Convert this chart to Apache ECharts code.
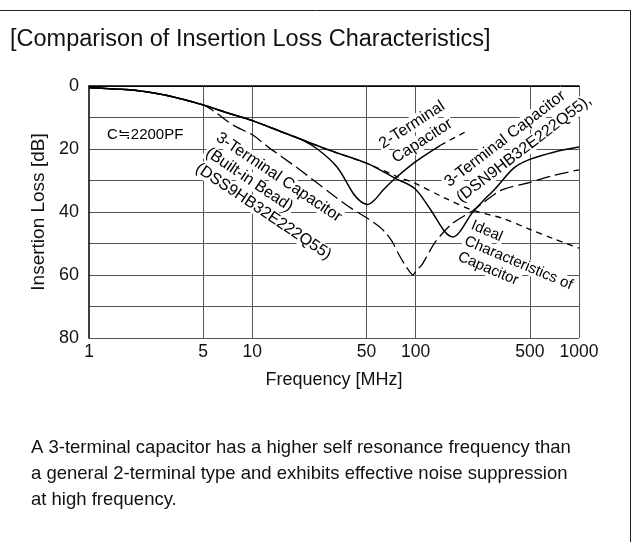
<!DOCTYPE html>
<html>
<head>
<meta charset="utf-8">
<script src="https://cdn.jsdelivr.net/npm/echarts@6/dist/echarts.min.js"></script>
<style>
html,body{margin:0;padding:0;background:#fff;}
#chart{width:636px;height:542px;}
</style>
</head>
<body>
<div id="chart"></div>
<script>
// ---- data ----
const xTickValues = [1, 5, 10, 50, 100, 500, 1000];
const xGridValues = [5, 10, 50, 100, 500, 1000];
const yTickLabels = [0, 20, 40, 60, 80];

// Ideal characteristics of capacitor
const idealFreq = [1, 1.5, 2, 3, 5, 7, 10, 15, 20, 30, 50, 75, 100, 150, 225, 340, 500, 700, 1000];
const idealLoss = [0.5, 1, 1.5, 3, 6, 8.5, 11, 14.5, 17, 20.5, 24.5, 28.5, 31, 35.5, 39.5, 42, 45.5, 48.5, 51.5];

// 3-terminal capacitor DSN9HB32E222Q55
const dsnFreq = [1, 1.5, 2, 3, 5, 7, 10, 15, 20, 30, 50, 75, 99, 126, 151, 169, 186, 220, 255, 307, 400, 500, 700, 1000];
const dsnLoss = [0.5, 1, 1.5, 3, 6, 8.5, 11, 14.5, 17, 20.5, 24.5, 29.3, 32.6, 40, 46.3, 47.9, 46.3, 40.5, 36.8, 32.6, 26, 23.3, 21, 19.4];

// 2-terminal capacitor (solid part and dashed continuation)
const twoFreq = [1, 1.5, 2, 3, 5, 7, 10, 15, 20, 25, 33, 41.6, 46, 51, 56, 63, 75, 100, 141];
const twoLoss = [0.5, 1, 1.5, 3, 6, 8.5, 11, 14.5, 17, 20, 25.7, 34.2, 36.6, 37.6, 36.2, 33.1, 29.3, 24, 18.9];
const twoExtFreq = [141, 209];
const twoExtLoss = [18.9, 14.1];

// 3-terminal capacitor with built-in bead DSS9HB32E222Q55
const dssFreq = [1, 1.5, 2, 3, 5, 6, 7.6, 10, 12.8, 15, 20, 30, 40, 50, 60, 66, 72, 78, 86, 92, 96, 101, 109, 132, 167, 225, 330, 500, 700, 1000];
const dssLoss = [0.5, 1, 1.5, 3, 6, 8.5, 12.4, 15.5, 19.8, 22.3, 27, 34, 38.7, 41.8, 44.7, 46.8, 49.5, 53, 56.8, 59, 60, 58.6, 56.8, 49.5, 43.7, 39.5, 33.2, 30.6, 28.4, 26.6];

const pairs = (xs, ys) => xs.map((x, i) => [x, ys[i]]);

const FONT = '"Liberation Sans", Arial, Helvetica, sans-serif';

// rotated multi-line annotation helper (each line a separate text element)
function block(lines, x, y, deg, lh, size, align) {
  const a = deg * Math.PI / 180;
  const px = -Math.sin(a), py = Math.cos(a);
  return lines.map((t, i) => ({
    type: 'text',
    x: x + i * lh * px,
    y: y + i * lh * py,
    rotation: -a,
    z: 1,
    style: {
      text: t,
      font: size + 'px ' + FONT,
      fill: '#000',
      align: align || 'left',
      verticalAlign: 'middle',
      backgroundColor: '#fff',
      padding: [0, 2]
    }
  }));
}

const chart = echarts.init(document.getElementById('chart'), null, {renderer: 'canvas'});

const graphics = [
  {type: 'line', z: 1, shape: {x1: 0, y1: 10.5, x2: 631, y2: 10.5}, style: {stroke: '#222', lineWidth: 1}},
  {type: 'line', z: 1, shape: {x1: 630.5, y1: 10, x2: 630.5, y2: 542}, style: {stroke: '#222', lineWidth: 1}},
  {type: 'text', x: 10, y: 40, z: 1, style: {text: '[Comparison of Insertion Loss Characteristics]', font: '23.5px ' + FONT, fill: '#111', verticalAlign: 'middle'}},
  {type: 'text', x: 31, y: 448, z: 1, style: {text: 'A 3-terminal capacitor has a higher self resonance frequency than', font: '18.5px ' + FONT, fill: '#111', verticalAlign: 'middle'}},
  {type: 'text', x: 31, y: 474, z: 1, style: {text: 'a general 2-terminal type and exhibits effective noise suppression', font: '18.5px ' + FONT, fill: '#111', verticalAlign: 'middle'}},
  {type: 'text', x: 31, y: 500, z: 1, style: {text: 'at high frequency.', font: '18.5px ' + FONT, fill: '#111', verticalAlign: 'middle'}},
  {type: 'text', x: 107, y: 135, z: 1, style: {text: 'C≒2200PF', font: '15px ' + FONT, fill: '#000', verticalAlign: 'middle', backgroundColor: '#fff'}}
]
.concat(block(['3-Terminal Capacitor', '(Built-in Bead)', '(DSS9HB32E222Q55)'], 216, 135, 34, 18.5, 16))
.concat(block(['2-Terminal', 'Capacitor'], 412, 125, -33, 19, 16, 'center'))
.concat(block(['3-Terminal Capacitor', '(DSN9HB32E222Q55),'], 445, 185, -37.5, 19.5, 16))
.concat(block(['Ideal', 'Characteristics of', 'Capacitor'], 470, 224, 23, 17, 15));

const lineBase = {type: 'line', showSymbol: false, symbol: 'none', z: 3, animation: false, silent: true};

chart.setOption({
  animation: false,
  backgroundColor: '#fff',
  textStyle: {fontFamily: FONT},
  grid: {left: 89, right: 57, top: 86, bottom: 204, containLabel: false},
  xAxis: {
    type: 'log', logBase: 10, min: 1, max: 1000,
    name: 'Frequency [MHz]', nameLocation: 'middle', nameGap: 33,
    nameTextStyle: {fontSize: 18, color: '#111', fontFamily: FONT},
    axisLine: {lineStyle: {color: '#000', width: 1.5}},
    axisTick: {show: false},
    minorTick: {show: false},
    splitLine: {show: false},
    axisLabel: {customValues: xTickValues, fontSize: 17.5, color: '#111', margin: 5, fontFamily: FONT,
      formatter: v => String(Math.round(v))}
  },
  yAxis: {
    type: 'value', inverse: true, min: 0, max: 80, interval: 10,
    name: 'Insertion Loss [dB]', nameLocation: 'middle', nameGap: 39,
    nameTextStyle: {fontSize: 19, color: '#111', fontFamily: FONT},
    axisLine: {lineStyle: {color: '#000', width: 1.5}},
    axisTick: {show: false},
    splitLine: {lineStyle: {color: ['#000', '#555', '#555', '#555', '#555', '#555', '#555', '#555', '#555'], width: 1}},
    axisLabel: {fontSize: 18, color: '#111', margin: 10, fontFamily: FONT,
      formatter: v => yTickLabels.indexOf(v) >= 0 ? String(v) : ''}
  },
  graphic: {elements: graphics},
  series: [
    {
      type: 'line', data: [], z: 0, silent: true,
      markLine: {
        z: 0, silent: true, symbol: ['none', 'none'], animation: false,
        label: {show: false},
        lineStyle: {type: 'solid', color: '#555', width: 1},
        data: xGridValues.map(v => ({xAxis: v}))
      }
    },
    Object.assign({}, lineBase, {name: 'Ideal', data: pairs(idealFreq, idealLoss), smooth: 0.3,
      lineStyle: {color: '#000', width: 1.3, type: [6, 5]}}),
    Object.assign({}, lineBase, {name: 'DSS', data: pairs(dssFreq, dssLoss), smooth: 0.25,
      lineStyle: {color: '#000', width: 1.3, type: [14, 5]}}),
    Object.assign({}, lineBase, {name: '2-Terminal', data: pairs(twoFreq, twoLoss), smooth: 0.3,
      lineStyle: {color: '#000', width: 1.5, type: 'solid'}}),
    Object.assign({}, lineBase, {name: '2-Terminal ext', data: pairs(twoExtFreq, twoExtLoss),
      lineStyle: {color: '#000', width: 1.3, type: [6, 5]}}),
    Object.assign({}, lineBase, {name: 'DSN', data: pairs(dsnFreq, dsnLoss), smooth: 0.3,
      lineStyle: {color: '#000', width: 1.5, type: 'solid'}})
  ]
});
</script>
</body>
</html>
